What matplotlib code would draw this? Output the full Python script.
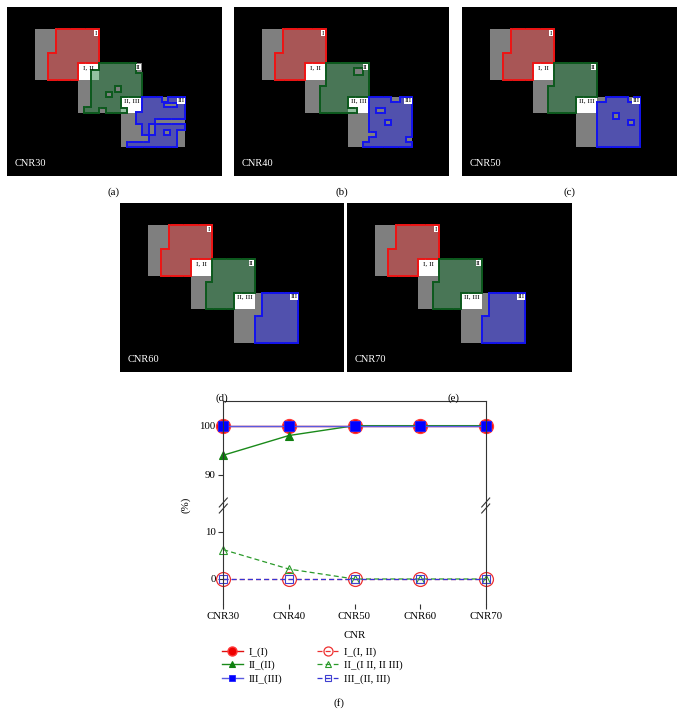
import numpy as np
import matplotlib
matplotlib.use("Agg")
import matplotlib.pyplot as plt
from matplotlib.collections import LineCollection
from matplotlib.lines import Line2D

plt.rcParams['font.family'] = ['Liberation Serif', 'DejaVu Serif']

# ---------------- chart (f) data ----------------
CATEGORIES = ["CNR30", "CNR40", "CNR50", "CNR60", "CNR70"]
I_I = [100, 100, 100, 100, 100]
II_II = [94, 98, 100, 100, 100]
III_III = [100, 100, 100, 100, 100]
I_I_II = [0, 0, 0, 0, 0]
II_MIX = [6.2, 2.1, 0, 0, 0]
III_II_III = [0, 0, 0, 0, 0]
SERIES_LABELS = ["I_(I)", "II_(II)", "III_(III)", "I_(I, II)", "II_(I II, II III)", "III_(II, III)"]

# ---------------- image panels data (grid cells of a 100x100 image) ----------------
PANEL_NAMES = ["CNR30", "CNR40", "CNR50", "CNR60", "CNR70"]
PANEL_TAGS = ["(a)", "(b)", "(c)", "(d)", "(e)"]
SQUARES = [(13, 13, 43, 43), (33, 33, 63, 63), (53, 53, 83, 83)]
OVERLAPS = [(33, 33, 43, 43), (53, 53, 63, 63)]

RED_ADD = [(23, 13, 43, 27), (19, 27, 43, 43)]
RED_CUT = [(33, 33, 43, 43)]

GREEN_ADD_30 = [(39, 37, 63, 53), (43, 33, 63, 37), (39, 53, 53, 59), (36, 59, 53, 63), (53, 60, 56, 63)]
GREEN_CUT_30 = [(60, 33, 63, 39), (46, 50, 49, 53), (50, 47, 53, 50), (43, 60, 46, 63)]
GREEN_ADD_40 = [(43, 33, 63, 47), (40, 47, 63, 53), (40, 53, 53, 63), (53, 60, 57, 63)]
GREEN_CUT_40 = [(56, 36, 60, 40)]
GREEN_ADD_CLEAN = [(43, 33, 63, 47), (40, 47, 63, 53), (40, 53, 53, 63)]
GREEN_CUT_CLEAN = []

BLUE_ADD_30 = [(63, 53, 83, 69), (60, 62, 63, 69), (63, 69, 79, 80), (79, 69, 83, 73), (56, 80, 79, 83)]
BLUE_CUT_30 = [(72, 53, 75, 56), (73, 57, 79, 59), (69, 66, 83, 69), (66, 69, 69, 76), (73, 73, 76, 76), (63, 76, 66, 80)]
BLUE_ADD_40 = [(63, 53, 83, 74), (66, 74, 83, 77), (63, 77, 83, 80), (60, 80, 83, 83)]
BLUE_CUT_40 = [(73, 53, 77, 56), (80, 77, 83, 80), (66, 60, 70, 63), (70, 67, 73, 70)]
BLUE_ADD_50 = [(63, 53, 83, 83)]
BLUE_CUT_50 = [(63, 53, 67, 56), (77, 53, 80, 56), (70, 63, 73, 66), (77, 67, 80, 70)]
BLUE_ADD_CLEAN = [(66, 53, 83, 67), (63, 67, 83, 83)]
BLUE_CUT_CLEAN = []

RED_SETS = [(RED_ADD, RED_CUT)] * 5
GREEN_SETS = [(GREEN_ADD_30, GREEN_CUT_30), (GREEN_ADD_40, GREEN_CUT_40),
              (GREEN_ADD_CLEAN, GREEN_CUT_CLEAN), (GREEN_ADD_CLEAN, GREEN_CUT_CLEAN),
              (GREEN_ADD_CLEAN, GREEN_CUT_CLEAN)]
BLUE_SETS = [(BLUE_ADD_30, BLUE_CUT_30), (BLUE_ADD_40, BLUE_CUT_40), (BLUE_ADD_50, BLUE_CUT_50),
             (BLUE_ADD_CLEAN, BLUE_CUT_CLEAN), (BLUE_ADD_CLEAN, BLUE_CUT_CLEAN)]

GRID = 100
W, H = 684, 725
fig = plt.figure(figsize=(W / 100, H / 100), dpi=100)
fig.patch.set_facecolor("white")


def px_axes(x0, y0, x1, y1):
    return fig.add_axes([x0 / W, 1 - y1 / H, (x1 - x0) / W, (y1 - y0) / H])


def fpt(x, y):
    return x / W, 1 - y / H


def build_mask(adds, cuts):
    m = np.zeros((GRID, GRID), bool)
    for x0, y0, x1, y1 in adds:
        m[y0:y1, x0:x1] = True
    for x0, y0, x1, y1 in cuts:
        m[y0:y1, x0:x1] = False
    return m


def outline_segments(m):
    segs = []
    p = np.pad(m, 1)
    for i, j in zip(*np.nonzero(m)):
        pi, pj = i + 1, j + 1
        if not p[pi, pj - 1]:
            segs.append([(j, i), (j, i + 1)])
        if not p[pi, pj + 1]:
            segs.append([(j + 1, i), (j + 1, i + 1)])
        if not p[pi - 1, pj]:
            segs.append([(j, i), (j + 1, i)])
        if not p[pi + 1, pj]:
            segs.append([(j, i + 1), (j + 1, i + 1)])
    return segs


PANEL_BOXES = [(7, 7, 222, 176), (234, 7, 449, 176), (462, 7, 677, 176),
               (120, 203, 344, 372), (347, 203, 572, 372)]
TAG_POS = [(114, 192), (342, 192), (569, 192), (222, 398), (453, 398)]
CELL_W = 2.15

FILL = [((1.0, 0.0, 0.0), 0.32), ((0.0, 0.42, 0.12), 0.42), ((0.0, 0.0, 1.0), 0.36)]
EDGE = ["#ee1515", "#0d5a1e", "#1414ee"]

for k in range(5):
    x0, y0, x1, y1 = PANEL_BOXES[k]
    ax = px_axes(x0, y0, x1, y1)
    ax.set_facecolor("black")
    ax.set_xticks([])
    ax.set_yticks([])
    for s in ax.spines.values():
        s.set_visible(False)
    ncols = (x1 - x0) / CELL_W
    img = np.zeros((GRID, GRID, 3))
    for a, b, c, d in SQUARES:
        img[b:d, a:c] = 0.5
    for a, b, c, d in OVERLAPS:
        img[b:d, a:c] = 1.0
    masks = [build_mask(*RED_SETS[k]), build_mask(*GREEN_SETS[k]), build_mask(*BLUE_SETS[k])]
    for m, (col, al) in zip(masks, FILL):
        img[m] = img[m] * (1 - al) + np.array(col) * al
    ax.imshow(img, extent=(0, GRID, GRID, 0), interpolation="nearest", aspect="auto")
    for m, ec in zip(masks, EDGE):
        lc = LineCollection(outline_segments(m), colors=ec, linewidths=1.3, capstyle="projecting")
        ax.add_collection(lc)
    ax.set_xlim(0, ncols)
    ax.set_ylim(GRID, 0)
    for lab, (lx, ly) in zip(["I", "II", "III"], [(41.4, 15.6), (61.2, 35.6), (81.0, 55.6)]):
        ax.text(lx, ly, lab, fontsize=5.2, color="black", ha="center", va="center",
                bbox=dict(facecolor="white", edgecolor="none", pad=0.3))
    ax.text(38.0, 35.8, "I, II", fontsize=5.4, color="black", ha="center", va="center")
    ax.text(58.0, 55.8, "II, III", fontsize=5.4, color="black", ha="center", va="center")
    ax.text(3.7, 92.5, PANEL_NAMES[k], fontsize=7.5, color="white", ha="left", va="center")
    tx, ty = TAG_POS[k]
    fig.text(*fpt(tx, ty), PANEL_TAGS[k], fontsize=7.8, ha="center", va="center")

# ---------------- chart (f) ----------------
ax_top = px_axes(223.3, 400.7, 485.7, 503)
ax_bot = px_axes(223.3, 503, 485.7, 604)
xs = np.arange(len(CATEGORIES))
ax_top.set_ylim(84.3, 105.07)
ax_bot.set_ylim(-5.29, 16.07)

STYLES = [
    dict(color="#e01010", ls="-", lw=1.0, marker="o", ms=10, mfc="#ee0000", mec="#ff3a3a", mew=1.0),
    dict(color="#1a8a1a", ls="-", lw=1.0, marker="^", ms=6, mfc="#108010", mec="#108010", mew=0.8),
    dict(color="#5a5ae0", ls="-", lw=1.0, marker="s", ms=7, mfc="#0000ff", mec="#2020ff", mew=0.6),
    dict(color="#ee3030", ls=(0, (4, 2.5)), lw=0.9, marker="o", ms=10, mfc="none", mec="#ee3030", mew=0.9),
    dict(color="#2a9a2a", ls=(0, (4, 2.5)), lw=0.9, marker="^", ms=6, mfc="none", mec="#2a9a2a", mew=0.8),
    dict(color="#3535d5", ls=(0, (4, 2.5)), lw=0.9, marker="s", ms=6, mfc="none", mec="#4040d0", mew=0.8),
]
SERIES = [I_I, II_II, III_III, I_I_II, II_MIX, III_II_III]

handles = []
for vals, st, lab in zip(SERIES, STYLES, SERIES_LABELS):
    target = None
    for ax in (ax_top, ax_bot):
        lo, hi = ax.get_ylim()
        if min(vals) >= lo and max(vals) <= hi:
            target = ax
    ln, = target.plot(xs, vals, label=lab, clip_on=False, **st)
    handles.append(ln)

for ax in (ax_top, ax_bot):
    ax.set_xlim(0, len(CATEGORIES) - 1)
    ax.set_facecolor("none")
    for s in ax.spines.values():
        s.set_linewidth(0.8)
        s.set_color("#333333")
    ax.tick_params(axis="y", direction="out", length=3.5, width=0.8, labelsize=7.8, pad=2, color="#333333")
ax_top.spines["bottom"].set_visible(False)
ax_top.set_xticks([])
ax_top.set_yticks([90, 100])
ax_bot.spines["top"].set_visible(False)
ax_bot.spines["bottom"].set_visible(False)
ax_bot.set_yticks([0, 10])
ax_bot.set_xticks(xs)
ax_bot.set_xticklabels(CATEGORIES)
ax_bot.tick_params(axis="x", direction="out", length=3.5, width=0.8, labelsize=7.8, pad=2, color="#333333")

# break marks
for bx in (223.3, 485.7):
    for dy in (0, 6):
        fig.add_artist(Line2D([(bx - 4) / W, (bx + 4) / W],
                              [1 - (507 + dy) / H, 1 - (498 + dy) / H],
                              color="#333333", lw=0.8))

fig.text(*fpt(355, 635), "CNR", fontsize=7.8, ha="center", va="center")
fig.text(*fpt(186, 505), "(%)", fontsize=7.8, ha="center", va="center", rotation=90)
fig.text(*fpt(339, 703), "(f)", fontsize=7.8, ha="center", va="center")

fig.legend(handles, SERIES_LABELS, ncol=2, loc="upper left", bbox_to_anchor=fpt(222, 647),
           frameon=False, fontsize=7.8, handlelength=1.9, handletextpad=0.6,
           columnspacing=3.2, labelspacing=0.35, borderpad=0, borderaxespad=0, markerscale=0.65)

fig.savefig("out.png", dpi=100)
